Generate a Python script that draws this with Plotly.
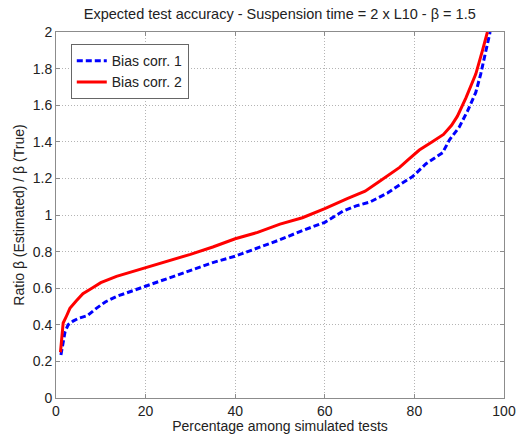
import plotly.graph_objects as go

# Bias corr. 1 (blue dashed)
x1 = [1.1, 1.5, 2.0, 2.7, 3.8, 5.0, 7.0, 9.0, 11.0, 13.5, 17.0, 20.0, 25.0, 30.0, 35.0,
      40.0, 45.0, 50.0, 55.0, 60.0, 64.0, 67.0, 70.0, 74.0, 77.0, 79.6, 82.6, 86.3,
      87.8, 90.0, 91.9, 93.7, 94.8, 95.9, 96.9]
y1 = [0.235, 0.30, 0.36, 0.40, 0.42, 0.435, 0.45, 0.49, 0.525, 0.555, 0.585, 0.61, 0.655,
      0.70, 0.74, 0.775, 0.82, 0.865, 0.915, 0.96, 1.02, 1.05, 1.07, 1.12, 1.17, 1.21,
      1.28, 1.34, 1.41, 1.48, 1.57, 1.67, 1.77, 1.90, 2.0]

# Bias corr. 2 (red solid)
x2 = [1.0, 1.3, 1.6, 2.2, 3.1, 4.5, 6.0, 8.0, 10.0, 13.5, 17.0, 20.0, 25.0, 30.0, 35.0,
      40.0, 45.0, 50.0, 55.0, 60.0, 65.0, 69.0, 72.0, 76.7, 78.5, 81.1, 84.0, 86.5, 88.3,
      89.6, 91.5, 93.7, 95.2, 96.3]
y2 = [0.25, 0.33, 0.41, 0.44, 0.49, 0.53, 0.57, 0.60, 0.63, 0.665, 0.69, 0.71, 0.745,
      0.785, 0.825, 0.87, 0.905, 0.95, 0.985, 1.035, 1.09, 1.13, 1.18, 1.26, 1.30, 1.355,
      1.40, 1.44, 1.49, 1.54, 1.64, 1.77, 1.90, 2.0]

x_ticks = [0, 20, 40, 60, 80, 100]
y_ticks = [0, 0.2, 0.4, 0.6, 0.8, 1, 1.2, 1.4, 1.6, 1.8, 2]

fig = go.Figure()
fig.add_trace(go.Scatter(x=x1, y=y1, mode="lines", name="Bias corr. 1",
                         line=dict(color="#0000ff", width=3, dash="6px,3px")))
fig.add_trace(go.Scatter(x=x2, y=y2, mode="lines", name="Bias corr. 2",
                         line=dict(color="#ff0000", width=3)))

axis_common = dict(showline=True, linecolor="#8c8c8c", linewidth=1, mirror="ticks",
                   ticks="inside", ticklen=4, tickcolor="#8c8c8c",
                   showgrid=True, gridcolor="#b4b4b4", griddash="1px,2px", gridwidth=1,
                   zeroline=False, automargin=False,
                   tickfont=dict(size=14, color="#222"))

fig.update_layout(
    width=521, height=434,
    margin=dict(l=56, r=17, t=32, b=36),
    paper_bgcolor="white", plot_bgcolor="white",
    font=dict(family="Liberation Sans, Arial, sans-serif", size=14, color="#222"),
    title=dict(text="Expected test accuracy - Suspension time = 2 x L10 - β = 1.5",
               x=0.537, xanchor="center", y=0.968, yanchor="middle",
               font=dict(size=14.5)),
    xaxis=dict(range=[0, 100], tickvals=x_ticks,
               title=dict(text="Percentage among simulated tests", standoff=0, font=dict(size=14)),
               **axis_common),
    yaxis=dict(range=[0, 2], tickvals=y_ticks,
               title=dict(text="Ratio β (Estimated) / β (True)", standoff=4, font=dict(size=14)),
               **axis_common),
    legend=dict(x=0.033, y=0.967, xanchor="left", yanchor="top",
                bgcolor="white", bordercolor="#666", borderwidth=1,
                font=dict(size=14), tracegroupgap=0),
    showlegend=True,
)

fig.write_html("out.html")
